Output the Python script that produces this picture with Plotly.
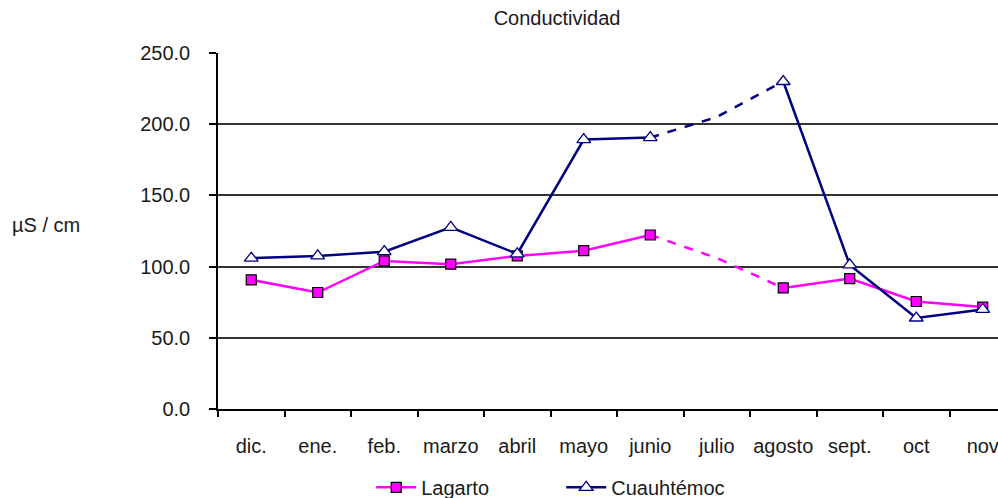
import plotly.graph_objects as go

months = ["dic.", "ene.", "feb.", "marzo", "abril", "mayo", "junio",
          "julio", "agosto", "sept.", "oct", "nov"]
lagarto = [90.7, 81.8, 104.0, 101.7, 107.5, 111.2, 122.2, 106.0, 85.0, 91.6, 75.5, 71.6]
cuauhtemoc = [105.9, 107.5, 110.5, 127.6, 108.9, 189.2, 190.6, 205.0, 230.0, 101.2, 63.9, 69.9]
y_ticks = [0, 50, 100, 150, 200, 250]

gap_idx = months.index("julio")
FONT = "Liberation Sans, Arial, sans-serif"
FS = 20
TXT = "#1a1a1a"

def solid(vals):
    return [None if i == gap_idx else v for i, v in enumerate(vals)]

def dashed(vals):
    return [v if gap_idx - 1 <= i <= gap_idx + 1 else None for i, v in enumerate(vals)]

fig = go.Figure()

series = [
    ("Lagarto", lagarto, "#FF00FF",
     dict(symbol="square", size=10, color="#FF00FF", line=dict(color="#000000", width=1.2))),
    ("Cuauhtémoc", cuauhtemoc, "#000080",
     dict(symbol="triangle-up", size=12, color="#FFFFFF", line=dict(color="#000080", width=1.3))),
]

for name, vals, col, mk in series:
    fig.add_trace(go.Scatter(x=months, y=dashed(vals), mode="lines",
                             line=dict(color=col, width=2.5, dash="dash"),
                             connectgaps=False, showlegend=False, hoverinfo="skip"))

for name, vals, col, mk in series:
    fig.add_trace(go.Scatter(x=months, y=solid(vals), mode="lines+markers", name=name,
                             line=dict(color=col, width=2.5), marker=mk,
                             connectgaps=False))

fig.update_layout(
    width=998, height=498,
    margin=dict(l=218, r=0, t=52.5, b=88.5, autoexpand=False),
    paper_bgcolor="white", plot_bgcolor="white",
    font=dict(family=FONT, size=FS, color=TXT),
    title=dict(text="Conductividad", x=557 / 998, xanchor="center",
               y=1 - 18 / 498, yanchor="middle", yref="container", automargin=False,
               font=dict(family=FONT, size=FS, color=TXT)),
    showlegend=True,
    legend=dict(orientation="h", x=0.44, xanchor="center", y=-0.22, yanchor="middle",
                font=dict(family=FONT, size=FS, color=TXT),
                entrywidth=135, entrywidthmode="pixels",
                itemwidth=40, tracegroupgap=0, bgcolor="rgba(0,0,0,0)"),
    xaxis=dict(type="category", categoryorder="array", categoryarray=months,
               range=[-0.5, -0.5 + 780 / 66.5], tickson="boundaries",
               ticks="outside", ticklen=6, tickcolor="#000000", tickwidth=1.5,
               showgrid=False, showline=True, linecolor="#000000", linewidth=1.5,
               ticklabelstandoff=18, zeroline=False, tickangle=0, automargin=False,
               tickfont=dict(family=FONT, size=FS, color=TXT)),
    yaxis=dict(range=[0, 250], tickvals=y_ticks, tickformat=".1f",
               ticks="outside", ticklen=7, tickcolor="#000000", tickwidth=1.5,
               showgrid=True, gridcolor="#333333", gridwidth=1.5,
               showline=True, linecolor="#000000", linewidth=1.5,
               zeroline=False, ticklabelstandoff=15, automargin=False,
               tickfont=dict(family=FONT, size=FS, color=TXT)),
)

fig.add_annotation(text="µS / cm", x=(10 - 218) / 780, xanchor="left",
                   y=(409.5 - 225) / 357, yanchor="middle",
                   xref="paper", yref="paper", showarrow=False,
                   font=dict(family=FONT, size=FS, color=TXT))

fig.write_html("out.html", config={"displayModeBar": False},
               post_script="document.body.style.margin='0px';document.body.style.overflow='hidden';")
